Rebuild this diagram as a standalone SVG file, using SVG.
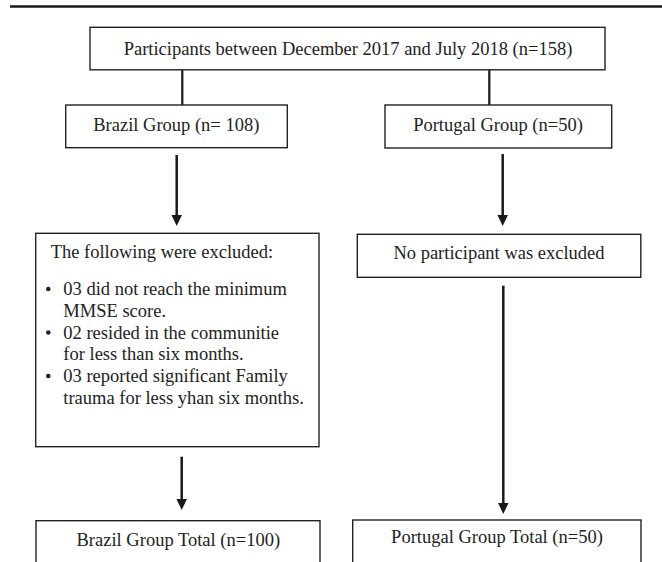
<svg xmlns="http://www.w3.org/2000/svg" width="662" height="562" viewBox="0 0 662 562">
<style>
.box{fill:#fff;stroke:#222;stroke-width:1.4}
.t{font-family:"Liberation Serif","Times New Roman",serif;font-size:18.5px;fill:#222}
.c{text-anchor:middle}
.ln{stroke:#1a1a1a;stroke-width:2.2;fill:none}
.ar{stroke:#1a1a1a;stroke-width:2.5;fill:none;marker-end:url(#ah)}
</style>
<defs>
<marker id="ah" markerUnits="userSpaceOnUse" markerWidth="12" markerHeight="11" refX="0" refY="5.25" orient="auto">
<path d="M0,0 L11,5.25 L0,10.5 z" fill="#1a1a1a"/>
</marker>
</defs>
<rect x="0" y="0" width="662" height="562" fill="#fff"/>
<line x1="10" y1="6.5" x2="662" y2="6.5" stroke="#1a1a1a" stroke-width="2.5"/>
<g id="connectors">
<line class="ln" x1="182.3" y1="70" x2="182.3" y2="105"/>
<line class="ln" x1="489.3" y1="70" x2="489.3" y2="105"/>
<line class="ar" x1="176.7" y1="155" x2="176.7" y2="215"/>
<line class="ar" x1="502.7" y1="154" x2="502.7" y2="215"/>
<line class="ar" x1="181.7" y1="456.7" x2="181.7" y2="499"/>
<line class="ar" x1="503.3" y1="285.7" x2="503.3" y2="503"/>
</g>
<g id="participants">
<rect class="box" x="90" y="27.3" width="515" height="42.5"/>
<text class="t c" x="348" y="54.5">Participants between December 2017 and July 2018 (n=158)</text>
</g>
<g id="brazil">
<rect class="box" x="65.7" y="105" width="221.6" height="42.7"/>
<text class="t c" x="176.3" y="130.5">Brazil Group (n= 108)</text>
</g>
<g id="portugal">
<rect class="box" x="385" y="105" width="226.7" height="43"/>
<text class="t c" x="498" y="130.5">Portugal Group (n=50)</text>
</g>
<g id="brazil-excluded">
<rect class="box" x="35.7" y="233.3" width="283.3" height="213.4"/>
<text class="t" x="50.7" y="257.7">The following were excluded:</text>
<circle cx="48.3" cy="289" r="2.3" fill="#222"/>
<text class="t" x="63.3" y="295">03 did not reach the minimum</text>
<text class="t" x="63.3" y="316.5">MMSE score.</text>
<circle cx="48.3" cy="332.5" r="2.3" fill="#222"/>
<text class="t" x="63.3" y="338.5">02 resided in the communitie</text>
<text class="t" x="63.3" y="360">for less than six months.</text>
<circle cx="48.3" cy="376" r="2.3" fill="#222"/>
<text class="t" x="63.3" y="382">03 reported significant Family</text>
<text class="t" x="63.3" y="403.5">trauma for less yhan six months.</text>
</g>
<g id="portugal-excluded">
<rect class="box" x="357.3" y="234.3" width="283.5" height="43"/>
<text class="t c" x="499" y="258.5">No participant was excluded</text>
</g>
<g id="brazil-total">
<rect class="box" x="36" y="520.7" width="284" height="60"/>
<text class="t c" x="178.3" y="546">Brazil Group Total (n=100)</text>
</g>
<g id="portugal-total">
<rect class="box" x="352.7" y="520" width="288.3" height="60"/>
<text class="t c" x="497" y="543.3">Portugal Group Total (n=50)</text>
</g>
</svg>
